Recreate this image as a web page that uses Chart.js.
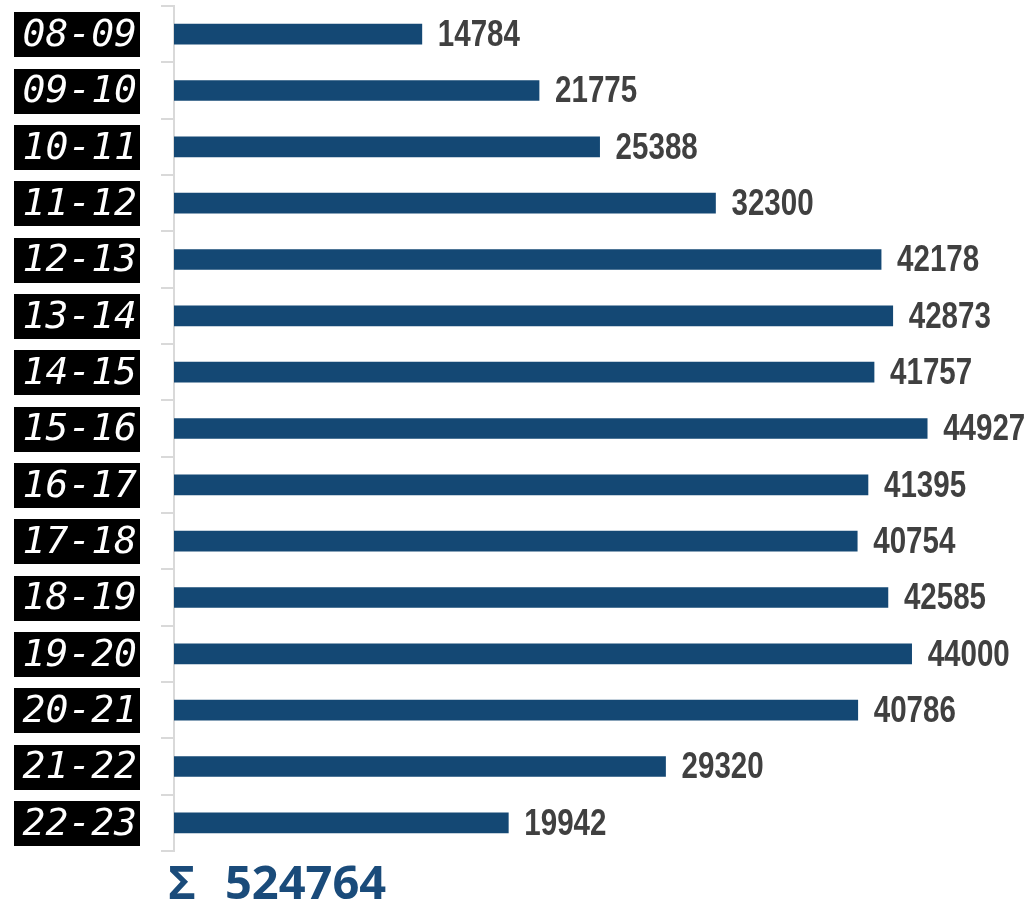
<!DOCTYPE html>
<html><head><meta charset="utf-8">
<script src="https://cdn.jsdelivr.net/npm/chart.js@4/dist/chart.umd.min.js"></script>
<style>html,body{margin:0;padding:0;background:#fff}#wrap{width:1029px;height:902px;position:relative}</style>
</head><body><div id="wrap"><canvas id="c"></canvas></div>
<script>
const categories = ['08-09','09-10','10-11','11-12','12-13','13-14','14-15','15-16','16-17','17-18','18-19','19-20','20-21','21-22','22-23'];
const values = [14784,21775,25388,32300,42178,42873,41757,44927,41395,40754,42585,44000,40786,29320,19942];
const totalSymbol = 'Σ';
const total = values.reduce((a,b)=>a+b,0);

const barColor = '#144874';
const axisGray = '#D9D9D9';

const overlay = {
  id:'overlay',
  afterDatasetsDraw(chart){
    const ctx = chart.ctx;
    const meta = chart.getDatasetMeta(0);
    const ys = chart.scales.y;
    ctx.save();
    // value labels (condensed)
    ctx.font = 'bold 36px "Liberation Sans", Arial, sans-serif';
    ctx.fillStyle = '#404040';
    ctx.textBaseline = 'middle';
    ctx.textAlign = 'left';
    meta.data.forEach((bar,i)=>{
      const t = String(values[i]);
      const w = ctx.measureText(t).width;
      ctx.fillText(t, bar.x + 16, bar.y + 2, w * 0.82);
    });
    // category boxes
    categories.forEach((lab,i)=>{
      const y = ys.getPixelForValue(i);
      ctx.fillStyle = '#000';
      ctx.fillRect(14, Math.round(y - 22), 126, 45);
      ctx.fillStyle = '#fff';
      ctx.font = 'oblique 38px "DejaVu Sans Mono", monospace';
      ctx.textAlign = 'right';
      ctx.textBaseline = 'middle';
      ctx.fillText(lab, 137, y + 2, 120);
    });
    // total
    ctx.fillStyle = '#1A4B7A';
    ctx.textAlign = 'left';
    ctx.textBaseline = 'alphabetic';
    ctx.font = 'bold 47px "Open Sans", sans-serif';
    ctx.fillText(totalSymbol, 168, 899);
    ctx.fillText(String(total), 225, 899);
    ctx.restore();
  }
};

new Chart(document.getElementById('c'), {
  type:'bar',
  data:{ labels: categories, datasets:[{ data: values, backgroundColor: barColor, barThickness: 20, borderWidth:0 }] },
  options:{
    indexAxis:'y',
    responsive:true, maintainAspectRatio:false, animation:false,
    layout:{ padding:{ top:6, bottom:51, left:0, right:0 } },
    plugins:{ legend:{display:false}, tooltip:{enabled:false}, title:{display:false} },
    scales:{
      x:{ display:false, min:0, max:51000 },
      y:{
        grid:{ display:true, drawOnChartArea:false, drawTicks:true, tickLength:13, color:axisGray, lineWidth:2, offset:true },
        border:{ display:true, color:axisGray, width:2 },
        ticks:{ display:false },
        afterFit(s){ s.width = 174; }
      }
    }
  },
  plugins:[overlay]
});
</script>
</body></html>
